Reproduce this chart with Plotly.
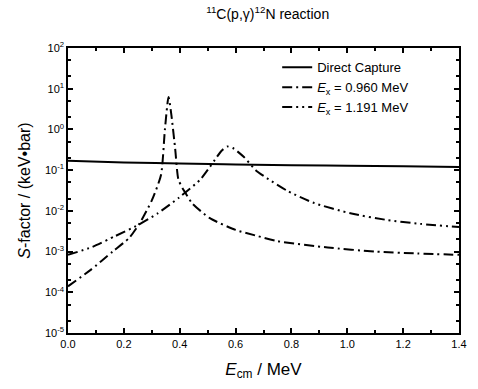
import plotly.graph_objects as go

# Direct capture
dc_e = [0.0, 0.2, 0.4, 0.6, 0.8, 1.0, 1.2, 1.4]
dc_s = [0.17, 0.155, 0.145, 0.138, 0.132, 0.128, 0.124, 0.12]

# Resonance Ex = 0.960 MeV
r1_e = [0.0, 0.08, 0.16, 0.22, 0.257, 0.30, 0.333, 0.347, 0.36, 0.37, 0.384, 0.395,
        0.41, 0.42, 0.444, 0.508, 0.60, 0.67, 0.75, 0.93, 1.1, 1.25, 1.4]
r1_s = [1.4e-4, 3.5e-4, 1.0e-3, 2.2e-3, 5.0e-3, 1.8e-2, 7.6e-2, 1.0, 6.3, 2.3, 0.32, 0.06,
        0.036, 0.028, 0.0155, 6.6e-3, 3.4e-3, 2.5e-3, 1.8e-3, 1.26e-3, 1.0e-3, 9.0e-4, 8.3e-4]

# Resonance Ex = 1.191 MeV
r2_e = [0.0, 0.087, 0.169, 0.251, 0.321, 0.397, 0.473, 0.508, 0.526, 0.55, 0.57, 0.59,
        0.63, 0.672, 0.713, 0.789, 0.882, 1.011, 1.14, 1.26, 1.4]
r2_s = [8.3e-4, 1.3e-3, 2.4e-3, 4.5e-3, 8.7e-3, 0.021, 0.058, 0.12, 0.18, 0.30, 0.38, 0.35,
        0.21, 0.10, 0.063, 0.030, 0.0155, 8.7e-3, 6.0e-3, 4.8e-3, 4.0e-3]

x_ticks = [0.0, 0.2, 0.4, 0.6, 0.8, 1.0, 1.2, 1.4]
x_labels = ["0.0", "0.2", "0.4", "0.6", "0.8", "1.0", "1.2", "1.4"]
y_exps = [-5, -4, -3, -2, -1, 0, 1, 2]

fig = go.Figure()
fig.add_trace(go.Scatter(x=dc_e, y=dc_s, mode="lines", name="Direct Capture",
                         line=dict(color="black", width=2, shape="spline")))
fig.add_trace(go.Scatter(x=r1_e, y=r1_s, mode="lines",
                         name="<i>E</i><sub>x</sub> = 0.960 MeV",
                         line=dict(color="black", width=2, dash="10px,4px,2px,4px", shape="spline", smoothing=0.6)))
fig.add_trace(go.Scatter(x=r2_e, y=r2_s, mode="lines",
                         name="<i>E</i><sub>x</sub> = 1.191 MeV",
                         line=dict(color="black", width=2, dash="10px,4px,2px,4px,2px,4px", shape="spline", smoothing=0.6)))

font_family = "Liberation Sans, Arial, sans-serif"
fig.update_layout(
    width=478, height=389,
    margin=dict(l=68, r=11, t=48, b=56),
    paper_bgcolor="white", plot_bgcolor="white",
    font=dict(family=font_family, color="black", size=11),
    title=dict(text="<sup>11</sup>C(p,γ)<sup>12</sup>N reaction", x=0.56, xanchor="center",
               y=0.965, yanchor="middle", font=dict(size=14)),
    legend=dict(x=0.535, y=0.985, xanchor="left", yanchor="top", bgcolor="rgba(0,0,0,0)",
                font=dict(size=13), borderwidth=0, tracegroupgap=0),
    showlegend=True,
)
fig.update_xaxes(
    range=[0, 1.4], tickvals=x_ticks, ticktext=x_labels,
    ticks="inside", ticklen=5, tickwidth=1.5, tickcolor="black",
    minor=dict(ticks="inside", ticklen=3, dtick=0.1, tickcolor="black"),
    showline=True, linecolor="black", linewidth=1.5, mirror="allticks",
    showgrid=False, zeroline=False,
    title=dict(text="<i>E</i><sub>cm</sub> / MeV", font=dict(size=17), standoff=14),
    tickfont=dict(size=11),
)
fig.update_yaxes(
    type="log", range=[-5, 2],
    tickvals=[10.0 ** e for e in y_exps],
    ticktext=["10<sup>%d</sup>" % e for e in y_exps],
    ticks="inside", ticklen=5, tickwidth=1.5, tickcolor="black",
    minor=dict(ticks="inside", ticklen=3, tickcolor="black"),
    showline=True, linecolor="black", linewidth=1.5, mirror="allticks",
    showgrid=False, zeroline=False,
    title=dict(text="<i>S</i>-factor / (keV•bar)", font=dict(size=16), standoff=10),
    tickfont=dict(size=11),
)
fig.write_html("out.html")
